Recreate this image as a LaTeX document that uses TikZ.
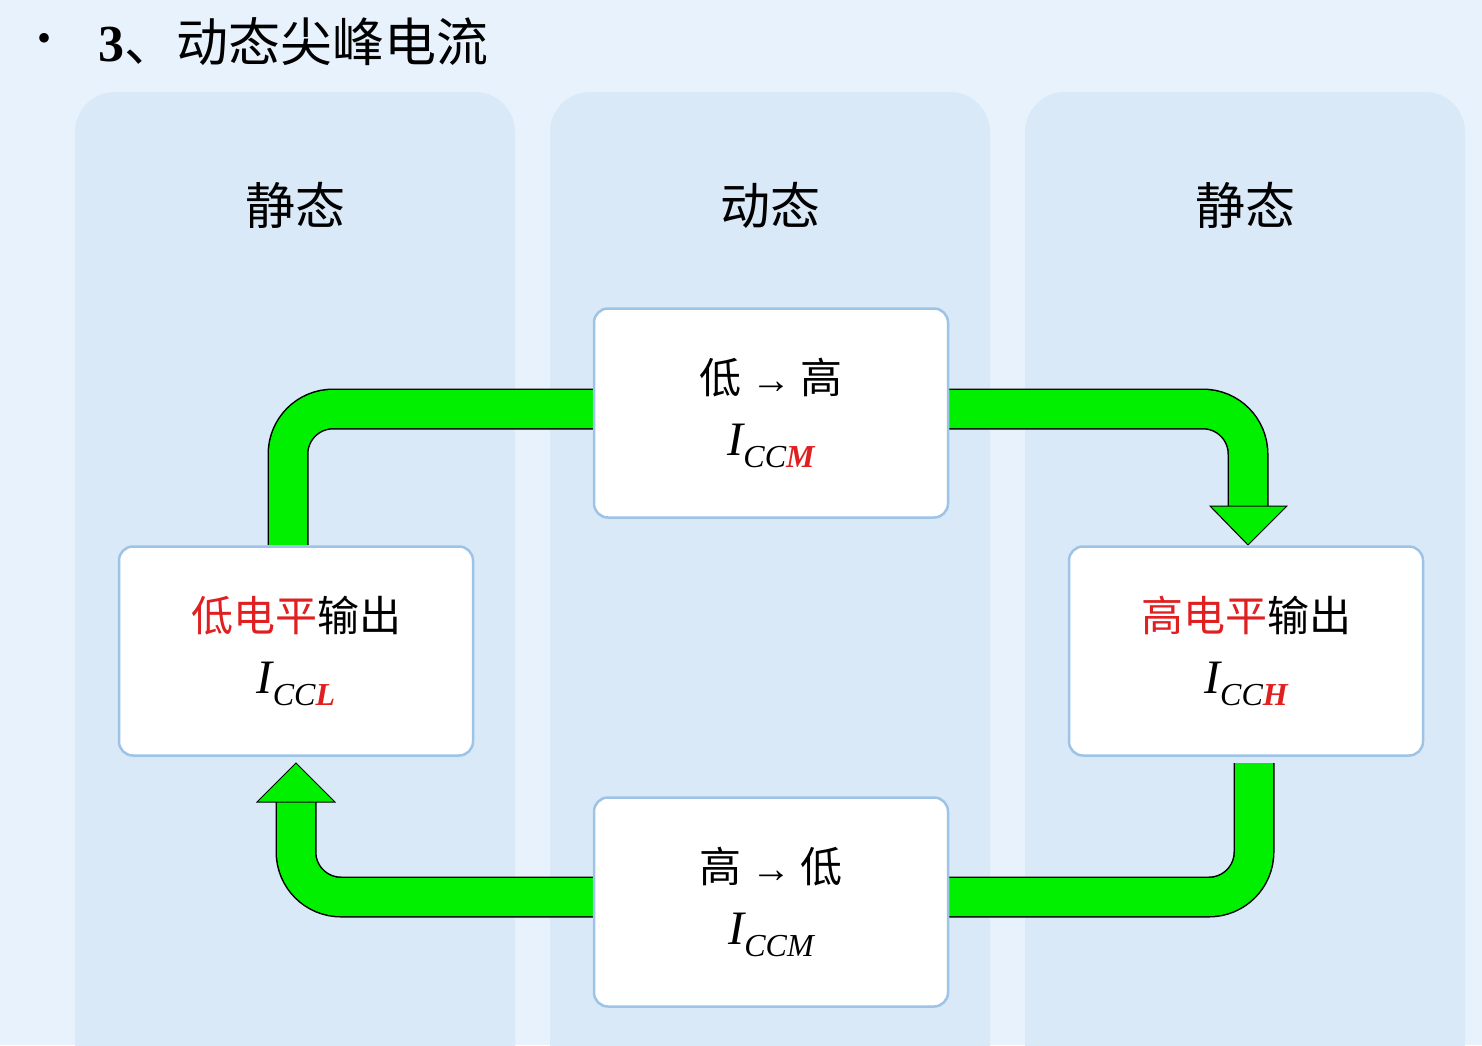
\documentclass[tikz,border=0pt]{standalone}
\usepackage{fontspec}
\setmainfont{Liberation Serif}
\newfontfamily\cjk{Noto Sans CJK SC}
\definecolor{bg}{HTML}{E8F2FC}
\definecolor{col}{HTML}{DAE9F8}
\definecolor{bord}{HTML}{9DC3E6}
\definecolor{grn}{HTML}{00F000}
\definecolor{rd}{HTML}{E02020}
\newcommand{\arr}{{\fontspec{Liberation Serif}\fontsize{40}{44}\selectfont →}}
\begin{document}
\begin{tikzpicture}[x=1pt,y=-1pt,
  colbox/.style={fill=col,draw=none,rounded corners=40},
  statebox/.style={fill=white,draw=bord,line width=2.5,rounded corners=14,minimum width=354,minimum height=209,inner sep=0,align=center},
  hdr/.style={font=\cjk\fontsize{50}{54}\selectfont},
  bandout/.style={draw=black,line width=41,rounded corners=45},
  bandin/.style={draw=grn,line width=38,rounded corners=45},
  head/.style={fill=grn,draw=black,line width=1}]
\fill[bg] (0,0) rectangle (1482,1045);
\useasboundingbox (0,0) rectangle (1482,1045);
\fill[colbox] (75,92) rectangle (515,1100);
\fill[colbox] (550,92) rectangle (990,1100);
\fill[colbox] (1025,92) rectangle (1465,1100);
\node[anchor=west,font=\fontsize{40}{44}\selectfont] (bul) at (34,42) {•};
\node[anchor=west,font=\fontsize{52}{56}\selectfont] (ttl) at (95,42) {\textbf{3}{\cjk 、动态尖峰电流}};
\node[hdr] (h1) at (295,205) {静态};
\node[hdr] (h2) at (770,205) {动态};
\node[hdr] (h3) at (1245,205) {静态};
% green bands
\coordinate (a1) at (596,409); \coordinate (a2) at (288,409); \coordinate (a3) at (288,545);
\coordinate (b1) at (946,409); \coordinate (b2) at (1248,409); \coordinate (b3) at (1248,507);
\coordinate (c1) at (1254,763); \coordinate (c2) at (1254,897); \coordinate (c3) at (946,897);
\coordinate (d1) at (596,897); \coordinate (d2) at (296,897); \coordinate (d3) at (296,801);
\foreach \p/\q/\r in {a1/a2/a3,b1/b2/b3,c1/c2/c3,d1/d2/d3}{
  \draw[bandout] (\p) -- (\q) -- (\r);}
\foreach \p/\q/\r in {a1/a2/a3,b1/b2/b3,c1/c2/c3,d1/d2/d3}{
  \draw[bandin] (\p) -- (\q) -- (\r);}
\draw[head] (1210,506) -- (1287,506) -- (1248,545) -- cycle;
\draw[head] (257,802) -- (335,802) -- (296,763) -- cycle;
% boxes
\node[statebox] (top) at (771,413) {{\cjk\fontsize{42}{46}\selectfont 低 \arr\ 高}\\[26pt]{\itshape\fontsize{48}{50}\selectfont I\raisebox{-12pt}{\fontsize{32}{34}\selectfont CC\textcolor{rd}{\bfseries M}}}};
\node[statebox] (bot) at (771,902) {{\cjk\fontsize{42}{46}\selectfont 高 \arr\ 低}\\[26pt]{\itshape\fontsize{48}{50}\selectfont I\raisebox{-12pt}{\fontsize{32}{34}\selectfont CCM}}};
\node[statebox] (lft) at (296,651) {{\cjk\fontsize{42}{46}\selectfont\textcolor{rd}{低电平}输出}\\[26pt]{\itshape\fontsize{48}{50}\selectfont I\raisebox{-12pt}{\fontsize{32}{34}\selectfont CC\textcolor{rd}{\bfseries L}}}};
\node[statebox] (rgt) at (1246,651) {{\cjk\fontsize{42}{46}\selectfont\textcolor{rd}{高电平}输出}\\[26pt]{\itshape\fontsize{48}{50}\selectfont I\raisebox{-12pt}{\fontsize{32}{34}\selectfont CC\textcolor{rd}{\bfseries H}}}};
\end{tikzpicture}
\end{document}
